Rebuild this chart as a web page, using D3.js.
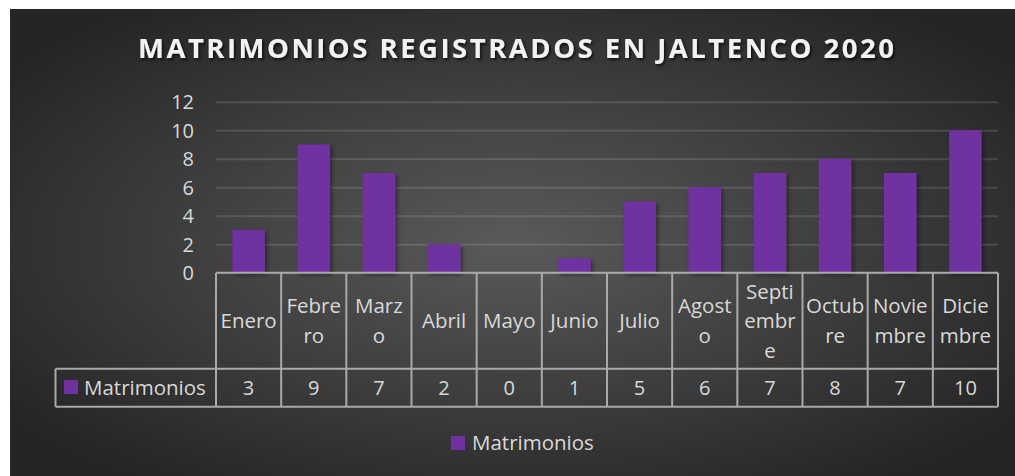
<!DOCTYPE html>
<html lang="es">
<head>
  <meta charset="UTF-8">
  <title>Matrimonios registrados en Jaltenco 2020</title>
  <script src="https://cdn.jsdelivr.net/npm/d3@7/dist/d3.min.js"></script>
  <style>
    html, body { margin: 0; padding: 0; background: #fff; }
    svg { display: block; font-family: "Open Sans", "Noto Sans", sans-serif; }
  </style>
</head>
<body>
  <div id="container"></div>
  <script>
    const width = 1015;
    const height = 476;

    // datos
    const categories = ["Enero", "Febrero", "Marzo", "Abril", "Mayo", "Junio", "Julio",
      "Agosto", "Septiembre", "Octubre", "Noviembre", "Diciembre"];
    // etiquetas como aparecen partidas en la tabla
    const categoryLines = [["Enero"], ["Febre", "ro"], ["Marz", "o"], ["Abril"], ["Mayo"], ["Junio"],
      ["Julio"], ["Agost", "o"], ["Septi", "embr", "e"], ["Octub", "re"], ["Novie", "mbre"], ["Dicie", "mbre"]];
    const seriesName = "Matrimonios";
    const values = [3, 9, 7, 2, 0, 1, 5, 6, 7, 8, 7, 10];
    const yTicks = [0, 2, 4, 6, 8, 10, 12];
    const title = "MATRIMONIOS REGISTRADOS EN JALTENCO 2020";

    const barColor = "#7030a0";
    const textColor = "#d9d9d9";
    const lineColor = "#a9a9a9";

    const plot = { left: 216, right: 998, top: 101.7, bottom: 272.7 };
    const rowCat = 96;   // alto fila de categorias
    const rowVal = 38;   // alto fila de valores
    const legendCellLeft = 55.5;

    const svg = d3.select("#container").append("svg")
      .attr("width", width)
      .attr("height", height);

    const defs = svg.append("defs");
    const grad = defs.append("radialGradient")
      .attr("id", "bg")
      .attr("cx", "50%").attr("cy", "50%").attr("r", "62%");
    grad.append("stop").attr("offset", "0%").attr("stop-color", "#5a5a5a");
    grad.append("stop").attr("offset", "100%").attr("stop-color", "#252525");

    defs.append("filter").attr("id", "titleShadow")
      .attr("x", "-5%").attr("y", "-30%").attr("width", "110%").attr("height", "160%")
      .append("feDropShadow")
      .attr("dx", 1.5).attr("dy", 2).attr("stdDeviation", 1.5)
      .attr("flood-color", "#000").attr("flood-opacity", 0.7);

    defs.append("filter").attr("id", "barShadow")
      .attr("x", "-20%").attr("y", "-20%").attr("width", "150%").attr("height", "150%")
      .append("feDropShadow")
      .attr("dx", 2).attr("dy", 2).attr("stdDeviation", 2)
      .attr("flood-color", "#000").attr("flood-opacity", 0.45);

    // fondo
    svg.append("rect")
      .attr("x", 10).attr("y", 9)
      .attr("width", width - 10).attr("height", height - 9)
      .attr("fill", "url(#bg)");

    // titulo
    svg.append("text")
      .attr("x", 516).attr("y", 58.3)
      .attr("text-anchor", "middle")
      .attr("font-size", 27.5)
      .attr("font-weight", "bold")
      .attr("fill", "#f2f2f2")
      .attr("textLength", 756)
      .attr("lengthAdjust", "spacing")
      .attr("filter", "url(#titleShadow)")
      .text(title);

    // escalas
    const x = d3.scaleBand()
      .domain(categories)
      .range([plot.left, plot.right])
      .paddingInner(0)
      .paddingOuter(0);

    const y = d3.scaleLinear()
      .domain([0, 12])
      .range([plot.bottom, plot.top]);

    // lineas de cuadricula
    const grid = svg.append("g")
      .attr("transform", "translate(" + plot.left + ",0)")
      .call(d3.axisLeft(y).tickValues(yTicks).tickSize(-(plot.right - plot.left)).tickFormat(""));
    grid.select(".domain").remove();
    grid.selectAll("line")
      .attr("stroke", "#ffffff")
      .attr("stroke-opacity", 0.13)
      .attr("stroke-width", 2);

    // eje y
    const yAxis = svg.append("g")
      .attr("transform", "translate(194,0)")
      .call(d3.axisLeft(y).tickValues(yTicks).tickSize(0).tickPadding(0));
    yAxis.select(".domain").remove();
    yAxis.selectAll("text")
      .attr("fill", textColor)
      .attr("font-size", 20)
      .attr("font-family", "'Open Sans', sans-serif")
      .attr("dy", "0.36em");

    // barras
    const barW = x.bandwidth() * 0.5;
    svg.append("g")
      .selectAll("rect")
      .data(values)
      .enter()
      .append("rect")
      .attr("x", function (d, i) { return x(categories[i]) + (x.bandwidth() - barW) / 2; })
      .attr("y", function (d) { return y(d); })
      .attr("width", barW)
      .attr("height", function (d) { return y(0) - y(d); })
      .attr("fill", barColor)
      .attr("filter", "url(#barShadow)");

    // tabla de datos
    const t = svg.append("g")
      .attr("fill", "none")
      .attr("stroke", lineColor)
      .attr("stroke-width", 2);

    const tTop = plot.bottom;
    const tMid = tTop + rowCat;
    const tBot = tMid + rowVal;

    t.append("line").attr("x1", plot.left).attr("x2", plot.right).attr("y1", tTop).attr("y2", tTop);
    t.append("line").attr("x1", legendCellLeft).attr("x2", plot.right).attr("y1", tMid).attr("y2", tMid);
    t.append("line").attr("x1", legendCellLeft).attr("x2", plot.right).attr("y1", tBot).attr("y2", tBot);
    t.append("line").attr("x1", legendCellLeft).attr("x2", legendCellLeft).attr("y1", tMid).attr("y2", tBot);

    const colEdges = categories.map(function (c) { return x(c); }).concat([x.range()[1]]);
    t.selectAll("line.col")
      .data(colEdges)
      .enter()
      .append("line")
      .attr("class", "col")
      .attr("x1", function (d) { return d; })
      .attr("x2", function (d) { return d; })
      .attr("y1", tTop)
      .attr("y2", tBot);

    // textos de categorias
    const lineH = 29.5;
    const catCenter = tTop + rowCat / 2;
    const catText = svg.append("g")
      .attr("fill", textColor)
      .attr("font-size", 20.5)
      .attr("text-anchor", "middle");

    categoryLines.forEach(function (lines, i) {
      const cx = x(categories[i]) + x.bandwidth() / 2;
      const txt = catText.append("text");
      lines.forEach(function (l, j) {
        txt.append("tspan")
          .attr("x", cx)
          .attr("y", catCenter + (j - (lines.length - 1) / 2) * lineH + 7.3)
          .text(l);
      });
    });

    // fila de valores
    svg.append("g")
      .attr("fill", textColor)
      .attr("font-size", 20)
      .attr("text-anchor", "middle")
      .selectAll("text")
      .data(values)
      .enter()
      .append("text")
      .attr("x", function (d, i) { return x(categories[i]) + x.bandwidth() / 2; })
      .attr("y", tMid + rowVal / 2 + 7)
      .text(function (d) { return d; });

    // clave de leyenda en la tabla
    svg.append("rect")
      .attr("x", 64).attr("y", 380)
      .attr("width", 14).attr("height", 14)
      .attr("fill", barColor);
    svg.append("text")
      .attr("x", 84).attr("y", tMid + rowVal / 2 + 7)
      .attr("fill", textColor)
      .attr("font-size", 20.5)
      .text(seriesName);

    // leyenda inferior
    svg.append("rect")
      .attr("x", 451).attr("y", 436)
      .attr("width", 14).attr("height", 14)
      .attr("fill", barColor);
    svg.append("text")
      .attr("x", 472).attr("y", 449.5)
      .attr("fill", textColor)
      .attr("font-size", 20.5)
      .text(seriesName);
  </script>
</body>
</html>
